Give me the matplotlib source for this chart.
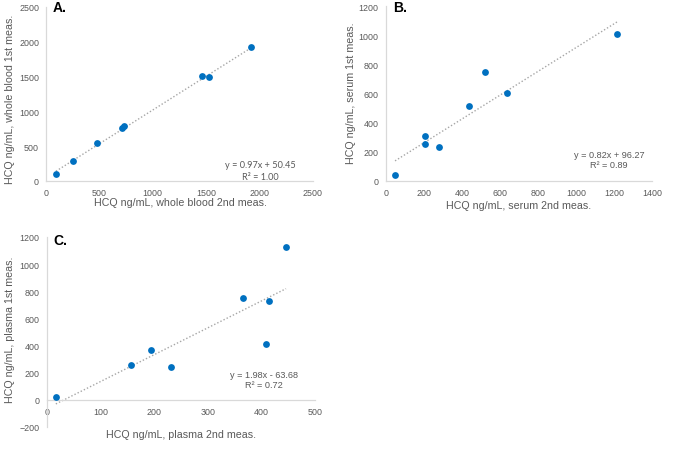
import matplotlib
matplotlib.use("Agg")
import matplotlib.pyplot as plt
import numpy as np

plt.rcParams['font.family'] = ['Liberation Sans', 'DejaVu Sans']

# Panel A: whole blood
a_x = [93, 256, 477, 711, 733, 1456, 1524, 1917]
a_y = [101, 283, 547, 768, 797, 1511, 1497, 1919]
a_slope, a_icpt = 0.97, 50.45
a_eq = ["y = 0.97x + 50.45", "R² = 1.00"]
a_xticks = [0, 500, 1000, 1500, 2000, 2500]
a_yticks = [0, 500, 1000, 1500, 2000, 2500]

# Panel B: serum
b_x = [49, 206, 208, 282, 436, 523, 635, 1216]
b_y = [41, 252, 305, 229, 514, 748, 606, 1007]
b_slope, b_icpt = 0.82, 96.27
b_eq = ["y = 0.82x + 96.27", "R² = 0.89"]
b_xticks = [0, 200, 400, 600, 800, 1000, 1200, 1400]
b_yticks = [0, 200, 400, 600, 800, 1000, 1200]

# Panel C: plasma
c_x = [17, 157, 195, 231, 365, 409, 414, 446]
c_y = [22, 260, 370, 240, 752, 411, 725, 1127]
c_slope, c_icpt = 1.98, -63.68
c_eq = ["y = 1.98x - 63.68", "R² = 0.72"]
c_xticks = [0, 100, 200, 300, 400, 500]
c_yticks = [-200, 0, 200, 400, 600, 800, 1000, 1200]

W, H = 685, 464
fig = plt.figure(figsize=(W/100, H/100), dpi=100)

BLUE = '#0070C0'
GREY_TXT = '#595959'
SPINE = '#D9D9D9'
TREND = '#A6A6A6'
TICK_FS = 6.4
LAB_FS = 7.7
EQ_FS = 6.6

def px_axes(x0, y0, x1, y1):
    return fig.add_axes([x0/W, 1 - y1/H, (x1-x0)/W, (y1-y0)/H])

def style(ax, xticks, yticks, bottom_at_zero=False):
    ax.set_xlim(xticks[0], xticks[-1])
    ax.set_ylim(yticks[0], yticks[-1])
    ax.set_xticks(xticks)
    ax.set_yticks(yticks)
    for s in ['top', 'right']:
        ax.spines[s].set_visible(False)
    for s in ['left', 'bottom']:
        ax.spines[s].set_color(SPINE)
        ax.spines[s].set_linewidth(0.9)
    if bottom_at_zero:
        ax.spines['bottom'].set_position(('data', 0))
    ax.tick_params(length=0, labelsize=TICK_FS, colors=GREY_TXT, pad=5)
    ax.patch.set_alpha(0)

def fit(ax, xs, slope, icpt):
    lx = np.array([min(xs), max(xs)])
    ax.plot(lx, slope*lx + icpt, linestyle=(0, (1, 1.5)), color=TREND, lw=1.0, zorder=1)

def txt(x, y, s, **kw):
    fig.text(x/W, 1 - y/H, s, ha='center', va='center', color=GREY_TXT, **kw)

# A
axA = px_axes(46, 8, 313, 182)
style(axA, a_xticks, a_yticks)
fit(axA, a_x, a_slope, a_icpt)
axA.scatter(a_x, a_y, s=24, color=BLUE, zorder=3, linewidths=0)
txt(10, 99, "HCQ ng/mL, whole blood 1st meas.", rotation=90, fontsize=LAB_FS)
txt(180, 203, "HCQ ng/mL, whole blood 2nd meas.", fontsize=LAB_FS)
txt(260, 166, a_eq[0], fontsize=EQ_FS, family=['Lato', 'DejaVu Sans'])
txt(260, 177, a_eq[1], fontsize=EQ_FS, family=['Lato', 'DejaVu Sans'])
fig.text(53/W, 1-8/H, "A.", ha='left', va='center', fontsize=10, fontweight='bold', color='black')

# B
axB = px_axes(385.7, 7.3, 652.3, 181.7)
style(axB, b_xticks, b_yticks)
fit(axB, b_x, b_slope, b_icpt)
axB.scatter(b_x, b_y, s=24, color=BLUE, zorder=3, linewidths=0)
txt(351, 93, "HCQ ng/mL, serum 1st meas.", rotation=90, fontsize=LAB_FS)
txt(519, 206, "HCQ ng/mL, serum 2nd meas.", fontsize=LAB_FS)
txt(609, 155, b_eq[0], fontsize=EQ_FS)
txt(609, 166, b_eq[1], fontsize=EQ_FS)
fig.text(393/W, 1-8/H, "B.", ha='left', va='center', fontsize=10, fontweight='bold', color='black')

# C
axC = px_axes(46.7, 238, 315, 428)
style(axC, c_xticks, c_yticks, bottom_at_zero=True)
fit(axC, c_x, c_slope, c_icpt)
axC.scatter(c_x, c_y, s=24, color=BLUE, zorder=3, linewidths=0)
txt(10, 330, "HCQ ng/mL, plasma 1st meas.", rotation=90, fontsize=LAB_FS)
txt(181, 435, "HCQ ng/mL, plasma 2nd meas.", fontsize=LAB_FS)
txt(264, 376, c_eq[0], fontsize=EQ_FS)
txt(264, 386, c_eq[1], fontsize=EQ_FS)
fig.text(53/W, 1-241/H, "C.", ha='left', va='center', fontsize=10, fontweight='bold', color='black')

fig.savefig("out.png", dpi=100)
